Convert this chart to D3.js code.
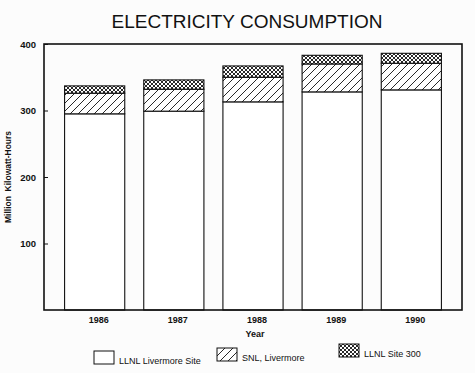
<!DOCTYPE html>
<html>
<head>
<meta charset="utf-8">
<script src="https://cdn.jsdelivr.net/npm/d3@7"></script>
<style>
  body { margin: 0; background: #fcfcfc; }
  svg { display: block; font-family: "Liberation Sans", Arial, sans-serif; }
</style>
</head>
<body>
<div id="chart"></div>
<script>
// data (million kWh)
const years = ["1986", "1987", "1988", "1989", "1990"];
const llnlLivermore = [295, 299, 313, 328, 331];
const snlLivermore = [31, 33, 37, 42, 40];
const llnlSite300 = [11, 14, 17, 13, 15];
const yTicks = [100, 200, 300, 400];
const seriesNames = ["LLNL Livermore Site", "SNL, Livermore", "LLNL Site 300"];

const width = 475, height = 373;
const plot = {left: 44, right: 462, top: 44, bottom: 310};

let svg = d3.select("#chart").append("svg")
            .attr("width", width)
            .attr("height", height);

//patterns for the hatched segments
let defs = svg.append("defs");
let hatch = defs.append("pattern")
                .attr("id", "hatch")
                .attr("patternUnits", "userSpaceOnUse")
                .attr("width", 8).attr("height", 8);
hatch.append("rect").attr("width", 8).attr("height", 8).attr("fill", "#fff");
hatch.append("path")
     .attr("d", "M-2,10 L10,-2 M-2,2 L2,-2 M6,10 L10,6")
     .attr("stroke", "#111").attr("stroke-width", 0.9);

let cross = defs.append("pattern")
                .attr("id", "cross")
                .attr("patternUnits", "userSpaceOnUse")
                .attr("width", 4).attr("height", 4);
cross.append("rect").attr("width", 4).attr("height", 4).attr("fill", "#fff");
cross.append("path")
     .attr("d", "M0,0 L4,4 M4,0 L0,4")
     .attr("stroke", "#111").attr("stroke-width", 0.9);

const fills = ["#fff", "url(#hatch)", "url(#cross)"];

//scales
let x = d3.scaleBand()
          .domain(years)
          .range([plot.left, plot.right])
          .paddingInner(0.24)
          .paddingOuter(0.26);

let y = d3.scaleLinear()
          .domain([0, 400])
          .range([plot.bottom, plot.top]);

//stacked table
let table = years.map(function(yr, i) {
  return {year: yr, a: llnlLivermore[i], b: snlLivermore[i], c: llnlSite300[i]};
});
let stacked = d3.stack().keys(["a", "b", "c"])(table);

//bars
stacked.forEach(function(layer, k) {
  svg.append("g")
     .selectAll("rect")
     .data(layer)
     .enter()
     .append("rect")
     .attr("x", function(d) { return x(d.data.year) })
     .attr("y", function(d) { return y(d[1]) })
     .attr("width", x.bandwidth())
     .attr("height", function(d) { return y(d[0]) - y(d[1]) })
     .attr("fill", fills[k])
     .attr("stroke", "#111")
     .attr("stroke-width", 1.1);
});

//frame
svg.append("rect")
   .attr("x", plot.left).attr("y", plot.top)
   .attr("width", plot.right - plot.left)
   .attr("height", plot.bottom - plot.top)
   .attr("fill", "none")
   .attr("stroke", "#111")
   .attr("stroke-width", 1.6);

//y axis
let yAxis = svg.append("g")
               .attr("transform", `translate(${plot.left},0)`)
               .call(d3.axisLeft(y).tickValues(yTicks).tickSize(-4).tickPadding(8));
yAxis.select(".domain").remove();
yAxis.selectAll("line").attr("stroke", "#111");
yAxis.selectAll("text")
     .attr("fill", "#111")
     .style("font-size", "9.5px")
     .style("font-weight", "bold");

//x labels
let xAxis = svg.append("g")
               .attr("transform", `translate(0,${plot.bottom})`)
               .call(d3.axisBottom(x).tickSize(0).tickPadding(7));
xAxis.select(".domain").remove();
xAxis.selectAll("text")
     .attr("fill", "#111")
     .attr("dx", 4)
     .style("font-size", "9px")
     .style("font-weight", "bold");

//axis titles
svg.append("text")
   .attr("x", 255).attr("y", 337)
   .style("text-anchor", "middle")
   .style("font-size", "9px")
   .style("font-weight", "bold")
   .attr("fill", "#111")
   .text("Year");

svg.append("text")
   .attr("transform", "translate(11,177) rotate(-90)")
   .style("text-anchor", "middle")
   .style("font-size", "8.5px")
   .style("font-weight", "bold")
   .attr("fill", "#111")
   .attr("xml:space", "preserve")
   .text("Million  Kilowatt-Hours");

//title
svg.append("text")
   .attr("x", 247).attr("y", 28)
   .style("text-anchor", "middle")
   .style("font-size", "19px")
   .attr("fill", "#111")
   .text("ELECTRICITY CONSUMPTION");

//legend
const legendX = [94, 217, 339];
const legendY = [351, 348, 344];
seriesNames.forEach(function(name, k) {
  let g = svg.append("g").attr("transform", `translate(${legendX[k]},${legendY[k]})`);
  g.append("rect")
   .attr("width", 20).attr("height", 13)
   .attr("fill", fills[k])
   .attr("stroke", "#111")
   .attr("stroke-width", 1);
  g.append("text")
   .attr("x", 25).attr("y", 13)
   .style("font-size", "9px")
   .attr("fill", "#111")
   .text(name);
});
</script>
</body>
</html>
